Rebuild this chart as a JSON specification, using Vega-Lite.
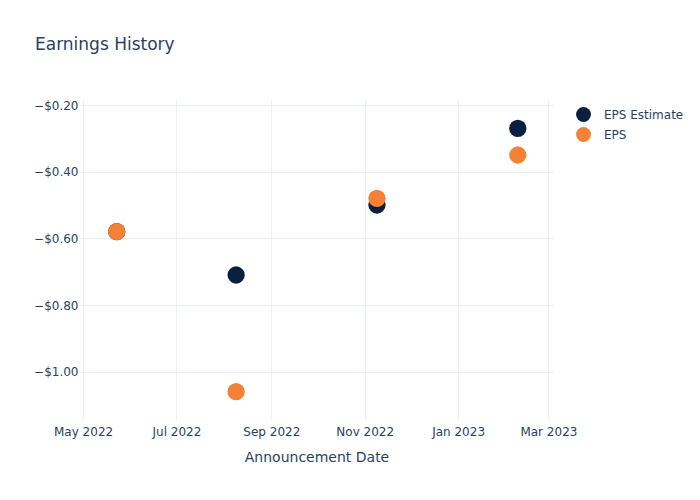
{
  "$schema": "https://vega.github.io/schema/vega-lite/v6.json",
  "autosize": {"type": "none"},
  "padding": {"left": 80, "top": 100, "right": 147, "bottom": 80},
  "width": 473,
  "height": 320,
  "background": "white",
  "config": {"view": {"stroke": null}},
  "title": {
    "text": "Earnings History",
    "anchor": "start",
    "frame": "group",
    "dx": -45,
    "offset": 45,
    "fontSize": 17,
    "fontWeight": "normal",
    "font": "DejaVu Sans",
    "color": "#2a3f5f"
  },
  "data": {
    "values": [
      {"date": "2022-05-23", "series": "EPS Estimate", "value": -0.58},
      {"date": "2022-08-09", "series": "EPS Estimate", "value": -0.71},
      {"date": "2022-11-09", "series": "EPS Estimate", "value": -0.50},
      {"date": "2023-02-09", "series": "EPS Estimate", "value": -0.27},
      {"date": "2022-05-23", "series": "EPS", "value": -0.58},
      {"date": "2022-08-09", "series": "EPS", "value": -1.06},
      {"date": "2022-11-09", "series": "EPS", "value": -0.48},
      {"date": "2023-02-09", "series": "EPS", "value": -0.35}
    ]
  },
  "mark": {"type": "point", "filled": true, "opacity": 1, "size": 300, "shape": "circle"},
  "encoding": {
    "x": {
      "field": "date",
      "type": "temporal",
      "title": "Announcement Date",
      "scale": {"domain": [{"year": 2022, "month": 4, "date": 29}, {"year": 2023, "month": 3, "date": 4}], "nice": false},
      "axis": {
        "values": [
          {"year": 2022, "month": 5, "date": 1},
          {"year": 2022, "month": 7, "date": 1},
          {"year": 2022, "month": 9, "date": 1},
          {"year": 2022, "month": 11, "date": 1},
          {"year": 2023, "month": 1, "date": 1},
          {"year": 2023, "month": 3, "date": 1}
        ],
        "format": "%b %Y",
        "ticks": false,
        "domain": false,
        "grid": true,
        "gridColor": "#ebf0f8",
        "labelPadding": 6,
        "labelFont": "DejaVu Sans",
        "labelFontSize": 12,
        "labelColor": "#2a3f5f",
        "titleFont": "DejaVu Sans",
        "titleFontSize": 14,
        "titleFontWeight": "normal",
        "titleColor": "#2a3f5f",
        "titlePadding": 13,
        "labelFlush": false
      }
    },
    "y": {
      "field": "value",
      "type": "quantitative",
      "title": null,
      "scale": {"domain": [-1.145, -0.185], "nice": false, "zero": false},
      "axis": {
        "values": [-1.0, -0.8, -0.6, -0.4, -0.2],
        "labelExpr": "'\u2212$' + format(abs(datum.value), '.2f')",
        "ticks": false,
        "domain": false,
        "grid": true,
        "gridColor": "#ebf0f8",
        "labelPadding": 2,
        "labelFont": "DejaVu Sans",
        "labelFontSize": 12,
        "labelColor": "#2a3f5f"
      }
    },
    "color": {
      "field": "series",
      "type": "nominal",
      "scale": {"domain": ["EPS Estimate", "EPS"], "range": ["#0b1f41", "#f48135"]},
      "legend": {
        "title": null,
        "orient": "none",
        "legendX": 495,
        "legendY": 6,
        "symbolType": "circle",
        "symbolSize": 220,
        "symbolOpacity": 1,
        "labelFont": "DejaVu Sans",
        "labelFontSize": 12,
        "labelColor": "#2a3f5f",
        "rowPadding": 4,
        "labelOffset": 12
      }
    }
  }
}
